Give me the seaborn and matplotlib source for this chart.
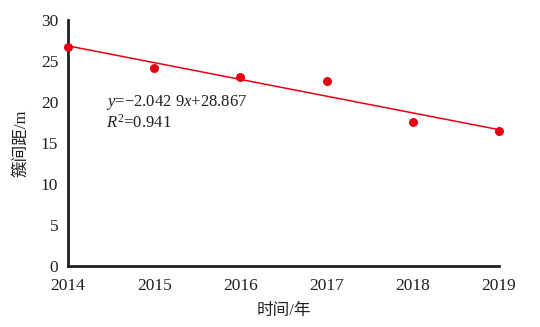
import matplotlib
matplotlib.use("Agg")
import matplotlib.pyplot as plt
import seaborn as sns
import pandas as pd

years = [2014, 2015, 2016, 2017, 2018, 2019]
spacing = [26.7, 24.1, 23.05, 22.5, 17.6, 16.4]
y_ticks = [0, 5, 10, 15, 20, 25, 30]
eq_text = r"$y$=−2.042 9$x$+28.867"
r2_text = r"$R^{2}$=0.941"

sns.set_style("white")
plt.rcParams['font.family'] = ['Liberation Serif', 'Noto Sans CJK SC']
plt.rcParams['mathtext.fontset'] = 'custom'
plt.rcParams['mathtext.rm'] = 'Liberation Serif'
plt.rcParams['mathtext.it'] = 'Liberation Serif:italic'

df = pd.DataFrame({"year": years, "spacing": spacing})

fig = plt.figure(figsize=(5.4, 3.27), dpi=100)
ax = fig.add_axes([0.126, 0.187, 0.798, 0.752])

red = "#e60012"
sns.regplot(data=df, x="year", y="spacing", ax=ax, ci=None, truncate=True,
            scatter_kws=dict(s=42, color=red, alpha=1, clip_on=False, zorder=3, linewidths=0),
            line_kws=dict(color=red, lw=1.1, zorder=2))

ax.set_xlim(2014, 2019)
ax.set_ylim(0, 30)
ax.set_xticks(years)
ax.set_yticks(y_ticks)
ax.set_xticklabels([str(y) for y in years])

dark = "#231f20"
for s in ["top", "right"]:
    ax.spines[s].set_visible(False)
for s in ["left", "bottom"]:
    ax.spines[s].set_linewidth(2.0)
    ax.spines[s].set_color(dark)

ax.tick_params(axis="both", direction="in", length=5, width=2, colors=dark,
               labelsize=12.5, labelcolor=dark)
ax.tick_params(axis="x", pad=9)
ax.tick_params(axis="y", pad=7)

ax.set_xlabel("时间/年", fontsize=12, color=dark, labelpad=6)
ax.set_ylabel("簇间距/m", fontsize=12, color=dark, labelpad=8)

ax.text(0.088, 0.663, eq_text, transform=ax.transAxes, fontsize=12,
        color=dark, va="center", ha="left")
ax.text(0.088, 0.583, r2_text, transform=ax.transAxes, fontsize=12,
        color=dark, va="center", ha="left")

fig.savefig("out.png", dpi=100)
